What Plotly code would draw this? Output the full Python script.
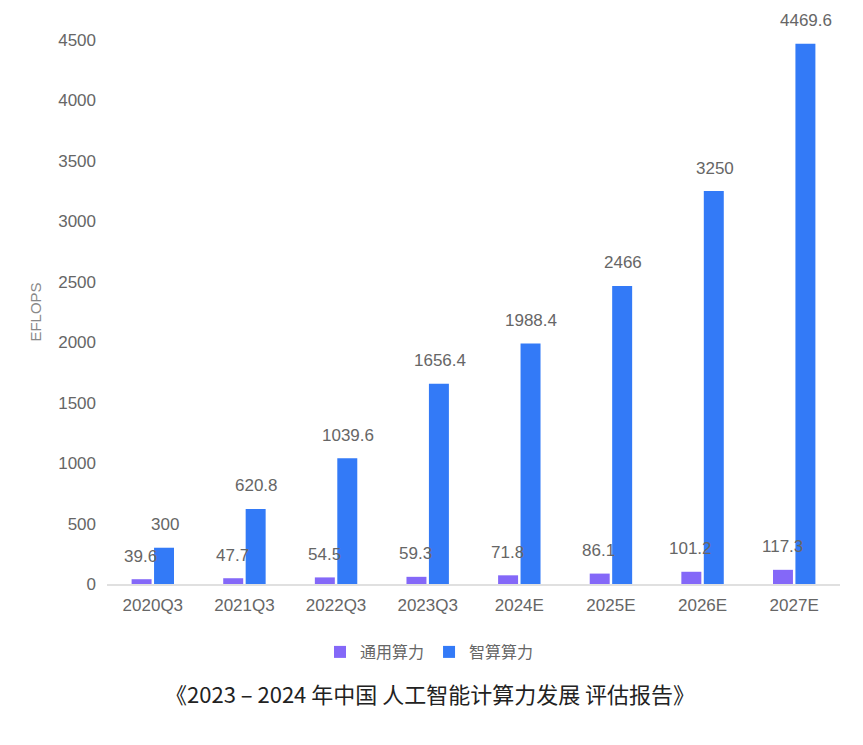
import plotly.graph_objects as go

categories = ["2020Q3", "2021Q3", "2022Q3", "2023Q3", "2024E", "2025E", "2026E", "2027E"]
general = [39.6, 47.7, 54.5, 59.3, 71.8, 86.1, 101.2, 117.3]
intelligent = [300, 620.8, 1039.6, 1656.4, 1988.4, 2466, 3250, 4469.6]
general_labels = ["39.6", "47.7", "54.5", "59.3", "71.8", "86.1", "101.2", "117.3"]
intelligent_labels = ["300", "620.8", "1039.6", "1656.4", "1988.4", "2466", "3250", "4469.6"]
y_ticks = [0, 500, 1000, 1500, 2000, 2500, 3000, 3500, 4000, 4500]

FONT = "Liberation Sans, Arial, Noto Sans CJK SC, sans-serif"

fig = go.Figure()
fig.add_trace(go.Bar(name="通用算力", x=categories, y=general,
                     marker=dict(color="#8468f8", line=dict(width=0))))
fig.add_trace(go.Bar(name="智算算力", x=categories, y=intelligent,
                     marker=dict(color="#337af7", line=dict(width=0))))

annotations = []
for c, v, t in zip(categories, general, general_labels):
    annotations.append(dict(x=c, y=v, text=t, xref="x", yref="y", showarrow=False,
                            xshift=-12, yshift=23, yanchor="middle",
                            font=dict(size=17, color="#666666", family=FONT)))
for c, v, t in zip(categories, intelligent, intelligent_labels):
    annotations.append(dict(x=c, y=v, text=t, xref="x", yref="y", showarrow=False,
                            xshift=12, yshift=23, yanchor="middle",
                            font=dict(size=17, color="#666666", family=FONT)))
annotations.append(dict(x=0.44, y=-0.2, xref="paper", yref="paper", showarrow=False,
                        text="《2023 – 2024 年中国 人工智能计算力发展 评估报告》",
                        yanchor="middle", xanchor="center",
                        font=dict(size=22, color="#222222", family="Noto Sans CJK SC, sans-serif")))

fig.update_layout(
    width=863, height=745,
    margin=dict(l=99, r=31, t=32, b=169),
    paper_bgcolor="white", plot_bgcolor="white",
    barmode="group", bargap=0.51, bargroupgap=0.11,
    font=dict(family=FONT, color="#666666", size=17),
    showlegend=True,
    legend=dict(orientation="h", x=0.44, xanchor="center", y=-0.125, yanchor="middle",
                font=dict(size=16, color="#666666", family="Noto Sans CJK SC, sans-serif"),
                itemwidth=30, traceorder="normal"),
    annotations=annotations,
    xaxis=dict(showgrid=False, showline=True, linecolor="#e0e0e0", linewidth=2,
               ticks="", ticklabelstandoff=5, tickfont=dict(size=17, color="#666666")),
    yaxis=dict(range=[0, 4500], tickvals=y_ticks, showgrid=False, zeroline=False,
               showline=False, ticks="", ticklabelstandoff=10,
               tickfont=dict(size=17, color="#666666"),
               title=dict(text="EFLOPS", font=dict(size=15, color="#888888"), standoff=12)),
)

fig.write_html("out.html")
